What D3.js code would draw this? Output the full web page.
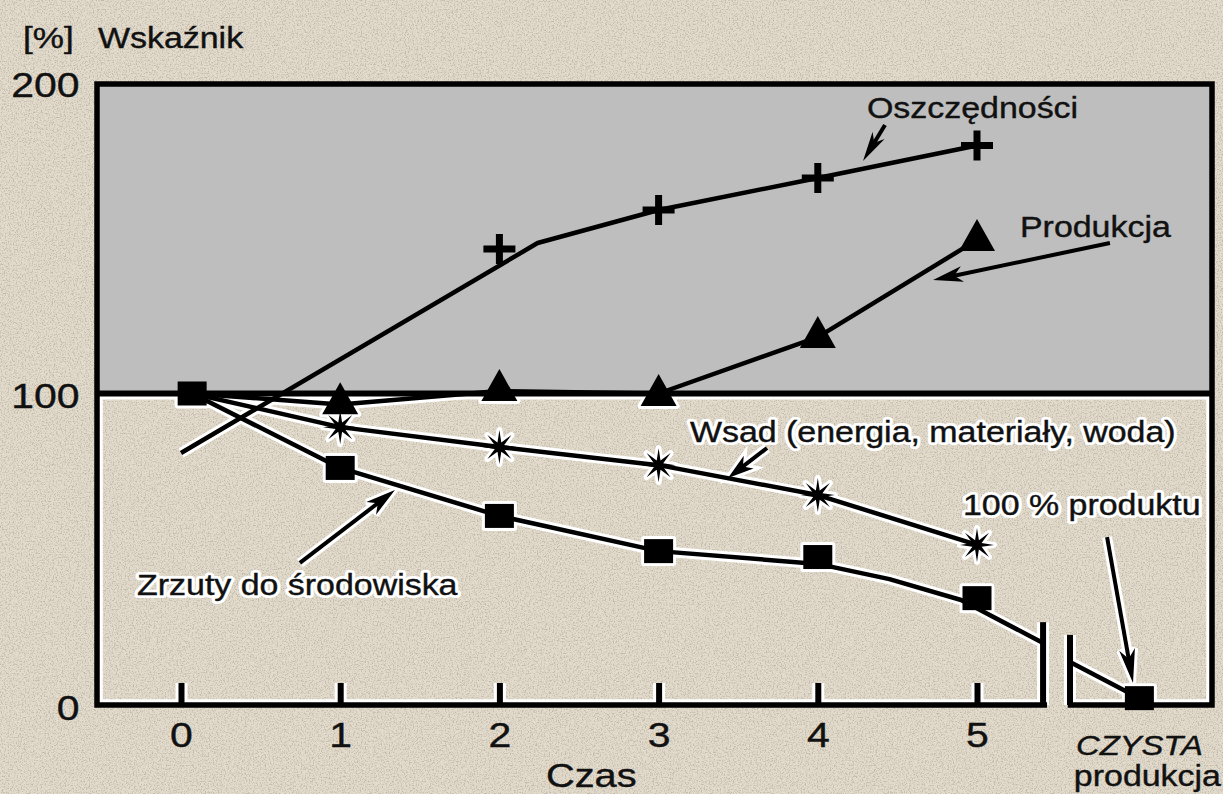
<!DOCTYPE html>
<html lang="pl">
<head>
<meta charset="UTF-8">
<title>Czysta produkcja</title>
<style>
  html, body { margin: 0; padding: 0; background: #e3dccd; overflow: hidden; }
  svg { display: block; }
  text { font-family: "Liberation Sans", Arial, sans-serif; fill: #111; }
</style>
</head>
<body>
<div id="chart"></div>
<script src="https://d3js.org/d3.v7.min.js"></script>
<script>
// --- data (x = czas, y = wskaznik %) ---
const czas = [0, 1, 2, 3, 4, 5];
const czasLabels = ["0", "1", "2", "3", "4", "5"];
const yTicks = [0, 100, 200];

const oszczednosciPts  = [[2, 146.4], [3, 158.9], [4, 169.2], [5, 179.6]];
const oszczednosciLine = [[0, 80.9], [2.24, 148.3], [3, 158.9], [4, 169.2], [5, 179.6]];

const produkcjaPts  = [[1, 96.9], [2, 101.1], [3, 99.5], [4, 118.1], [5, 149.3]];
const produkcjaLine = [[0.07, 100], [1, 96.5], [2, 100.8], [3, 100], [4, 118.1], [5, 149.3]];

const wsadPts  = [[1, 89.2], [2, 82.8], [3, 77.0], [4, 67.4], [5, 51.4]];
const wsadLine = [[0.07, 100], [1, 89.2], [2, 82.8], [3, 77.0], [4, 67.4], [5, 51.4]];

const zrzutyPts   = [[0.07, 100], [1, 76.1], [2, 60.7], [3, 49.4], [4, 47.5], [5, 34.3]];
const zrzutyLineA = [[0.07, 100], [1, 76.1], [2, 60.7], [3, 49.4], [4, 45.3], [4.45, 40.4], [4.9, 33.7], [5.415, 19.9]];
const zrzutyLineB = [[5.584, 13.8], [6.02, 2.2]];
const czystaPts   = [[6.02, 2.2]];

// axis break (x of the two bars with their height, and the gap in the axis line)
const breakBars = [[5.415, 26.6], [5.584, 22.5]];
const breakGap = [5.44, 5.57];

// annotations: label start + baseline, arrow tail -> tip
const labels = [
  { text: "Oszczędności", x: 4.309, y: 188.4, halo: false },
  { text: "Produkcja", x: 5.27, y: 150.2, halo: false },
  { text: "Wsad (energia, materiały, woda)", x: 3.197, y: 84.4, halo: true },
  { text: "100 % produktu", x: 4.912, y: 61.0, halo: true },
  { text: "Zrzuty do środowiska", x: -0.276, y: 35.3, halo: true }
];
const arrows = [
  { from: [4.422, 186.2], to: [4.284, 174.6], len: 30, w: 7 },
  { from: [5.835, 148.3], to: [4.724, 136.4], len: 30, w: 8 },
  { from: [3.681, 82.5], to: [3.436, 72.9], len: 26, w: 8 },
  { from: [5.817, 53.9], to: [5.98, 7.1], len: 34, w: 8 },
  { from: [0.747, 45.6], to: [1.344, 69.0], len: 30, w: 8 }
];

// --- layout ---
const W = 1223, H = 794;
const fLeft = 97, fRight = 1212, fTop = 84, fBottom = 705;
const sx = 1.17; // the original lettering is a bit wide

const x = d3.scaleLinear().domain([0, 5]).range([181, 977]);
const y = d3.scaleLinear().domain([0, 200]).range([fBottom, 82]);

const line = d3.line().x(d => x(d[0])).y(d => y(d[1]));

function starPath(ro, ri, n) {
  const pts = d3.range(n * 2).map(i => {
    const a = Math.PI * i / n - Math.PI / 2;
    const r = i % 2 ? ri : ro;
    return [r * Math.cos(a), r * Math.sin(a)];
  });
  return "M" + pts.join("L") + "Z";
}
const shapes = {
  square: "M-14.5,-12H14.5V12H-14.5Z",
  triangle: "M0,-21L18,11L-18,11Z",
  plus: "M-16,-3.5H-3.5V-15H3.5V-3.5H16V3.5H3.5V15H-3.5V3.5H-16Z",
  star: starPath(17, 5, 8)
};

const series = [
  { lines: [oszczednosciLine], pts: oszczednosciPts, shape: "plus" },
  { lines: [produkcjaLine], pts: produkcjaPts, shape: "triangle" },
  { lines: [wsadLine], pts: wsadPts, shape: "star" },
  { lines: [zrzutyLineA, zrzutyLineB], pts: zrzutyPts.concat(czystaPts), shape: "square" }
];

const svg = d3.select("#chart").append("svg")
  .attr("width", W).attr("height", H);

const defs = svg.append("defs");
const noise = defs.append("filter").attr("id", "noise").attr("x", 0).attr("y", 0).attr("width", 1).attr("height", 1);
noise.append("feTurbulence").attr("type", "fractalNoise").attr("baseFrequency", 0.75).attr("numOctaves", 2).attr("seed", 4);
noise.append("feColorMatrix").attr("type", "matrix")
  .attr("values", "0 0 0 0 0.45  0 0 0 0 0.40  0 0 0 0 0.33  3.4 0 0 0 -1.55");
defs.append("clipPath").attr("id", "lower")
  .append("rect").attr("x", fLeft).attr("y", y(100) + 1).attr("width", fRight - fLeft).attr("height", fBottom - y(100) + 1);

// background
svg.append("rect").attr("width", W).attr("height", H).attr("fill", "#e3dccd");
svg.append("rect").attr("width", W).attr("height", H).attr("filter", "url(#noise)").attr("opacity", 0.7);
svg.append("rect").attr("x", fLeft).attr("y", fTop).attr("width", fRight - fLeft).attr("height", y(100) - fTop)
  .attr("fill", "#bebebe");

function framePath() {
  return `M${x(breakGap[1])},${fBottom}H${fRight}V${fTop}H${fLeft}V${fBottom}H${x(breakGap[0])}`;
}

function arrowGeom(a) {
  const x1 = x(a.from[0]), y1 = y(a.from[1]), x2 = x(a.to[0]), y2 = y(a.to[1]);
  const ang = Math.atan2(y2 - y1, x2 - x1);
  const back = a.len * 0.6;
  return {
    shaft: `M${x1},${y1}L${x2 - back * Math.cos(ang)},${y2 - back * Math.sin(ang)}`,
    head: `M0,0L${-a.len},${-a.w}L${-a.len * 0.72},0L${-a.len},${a.w}Z`,
    tr: `translate(${x2},${y2}) rotate(${ang * 180 / Math.PI})`
  };
}

function addText(g, txt, px, py, size, anchor, style) {
  const t = g.append("text")
    .attr("transform", `translate(${px},${py}) scale(${sx},1)`)
    .attr("text-anchor", anchor || "start")
    .style("font-size", size + "px")
    .attr("stroke", "#111").attr("stroke-width", 0.4)
    .text(txt);
  if (style) t.style("font-style", style);
  return t;
}

// draws everything once in white (halo, clipped to the lower part) and once in black
function layer(g, halo) {
  const col = halo ? "#fff" : "#000";
  const grow = halo ? 6 : 0;

  series.forEach(s => {
    s.lines.forEach(l => {
      g.append("path").attr("d", line(l))
        .attr("fill", "none").attr("stroke", col)
        .attr("stroke-width", 4.5 + grow).attr("stroke-linejoin", "round");
    });
  });

  // 100 % line and frame
  g.append("line").attr("x1", fLeft).attr("x2", fRight).attr("y1", y(100)).attr("y2", y(100))
    .attr("stroke", col).attr("stroke-width", 6 + grow);
  g.append("path").attr("d", framePath()).attr("fill", "none")
    .attr("stroke", col).attr("stroke-width", 5.5 + grow);

  // break bars
  g.selectAll(null).data(breakBars).join("line")
    .attr("x1", d => x(d[0])).attr("x2", d => x(d[0]))
    .attr("y1", fBottom).attr("y2", d => y(d[1]))
    .attr("stroke", col).attr("stroke-width", 6 + grow);

  // ticks (upward) + labels below
  const ax = g.append("g").attr("transform", `translate(0,${fBottom})`)
    .call(d3.axisBottom(x).tickValues(czas).tickFormat((d, i) => czasLabels[i])
      .tickSizeInner(-22).tickSizeOuter(0).tickPadding(17));
  ax.select(".domain").remove();
  ax.selectAll(".tick line").attr("stroke", col).attr("stroke-width", 6 + grow);
  if (halo) ax.selectAll(".tick text").remove();
  else ax.selectAll(".tick text")
    .attr("fill", "#111").attr("font-family", null).attr("font-size", null)
    .attr("stroke", "#111").attr("stroke-width", 0.4)
    .style("font-size", "35px").attr("transform", `scale(${sx},1)`);

  // markers
  series.forEach(s => {
    g.selectAll(null).data(s.pts).join("path")
      .attr("transform", d => `translate(${x(d[0])},${y(d[1])})`)
      .attr("d", shapes[s.shape])
      .attr("fill", col)
      .attr("stroke", halo ? "#fff" : "none")
      .attr("stroke-width", halo ? 6 : 0)
      .attr("stroke-linejoin", "round");
  });

  // arrows
  arrows.forEach(a => {
    const gm = arrowGeom(a);
    g.append("path").attr("d", gm.shaft).attr("stroke", col).attr("stroke-width", 4 + grow).attr("fill", "none");
    g.append("path").attr("d", gm.head).attr("transform", gm.tr).attr("fill", col)
      .attr("stroke", halo ? "#fff" : "none").attr("stroke-width", halo ? 6 : 0);
  });

  // annotation labels
  labels.forEach(l => {
    if (halo && !l.halo) return;
    const t = addText(g, l.text, x(l.x), y(l.y), 29);
    if (halo) t.style("fill", "#fff").attr("stroke", "#fff").attr("stroke-width", 6).attr("stroke-linejoin", "round");
  });
}

layer(svg.append("g").attr("clip-path", "url(#lower)"), true);
layer(svg.append("g"), false);

// y axis labels
const ay = svg.append("g").attr("transform", `translate(${fLeft},0)`)
  .call(d3.axisLeft(y).tickValues(yTicks).tickSize(0).tickPadding(15));
ay.select(".domain").remove();
ay.selectAll(".tick text")
  .attr("fill", "#111").attr("font-family", null).attr("font-size", null)
  .attr("stroke", "#111").attr("stroke-width", 0.4)
  .attr("dy", "0.4em").style("font-size", "35px").attr("transform", `scale(${sx},1)`);

// titles
const tg = svg.append("g");
addText(tg, "[%]", 23, 48, 30);
addText(tg, "Wskaźnik", 98, 48, 29);
addText(tg, "Czas", 546, 787, 34);
addText(tg, "CZYSTA", x(6.02), 755, 28, "middle", "italic");
addText(tg, "produkcja", x(6.02) + 8, 786, 29, "middle");
</script>
</body>
</html>
